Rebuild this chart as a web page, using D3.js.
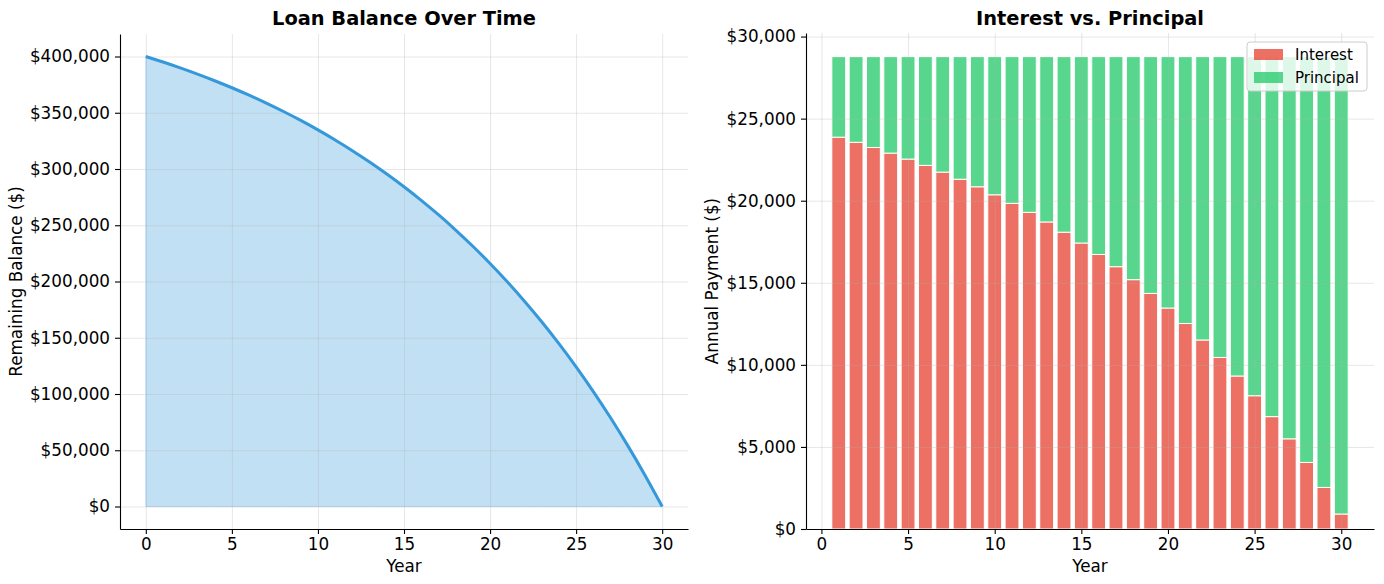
<!DOCTYPE html>
<html>
<head>
<meta charset="utf-8">
<script src="https://cdn.jsdelivr.net/npm/d3@7"></script>
<style>
  body { margin: 0; background: #fff; }
  svg text { font-family: "DejaVu Sans", sans-serif; fill: #000; }
  .axis path, .axis line { stroke: #000; stroke-width: 1.1; }
  .axis text { font-size: 16.8px; }
  .grid line { stroke: #b0b0b0; stroke-opacity: 0.35; stroke-width: 0.9; }
  .grid path { display: none; }
</style>
</head>
<body>
<svg id="chart" width="1384" height="584"></svg>
<script>
// years 0..30, balance at end of each year
var years = [0,1,2,3,4,5,6,7,8,9,10,11,12,13,14,15,16,17,18,19,20,21,22,23,24,25,26,27,28,29,30];
var balance = [400000,395093,389873,384336,378458,372217,365592,358557,351089,343160,
  334743,325804,316318,306245,295550,284195,272141,259343,245755,231330,
  216014,199754,182491,164164,144707,124048,102116,78832,54110,27865,0];

// payment years 1..30
var payYears = [1,2,3,4,5,6,7,8,9,10,11,12,13,14,15,16,17,18,19,20,21,22,23,24,25,26,27,28,29,30];
var interest = [23871,23558,23241,22900,22537,22153,21743,21310,20849,20361,
  19839,19292,18705,18083,17423,16724,15980,15190,14353,13462,
  12518,11515,10451,9321,8119,6846,5494,4056,2533,913];
var principal = [4907,5220,5537,5878,6241,6625,7035,7468,7929,8417,
  8939,9486,10073,10695,11355,12054,12798,13588,14425,15316,
  16260,17263,18327,19457,20659,21932,23284,24722,26245,27865];

var xTicksLeft = [0,5,10,15,20,25,30];
var yTicksLeft = [0,50000,100000,150000,200000,250000,300000,350000,400000];
var xTicksRight = [0,5,10,15,20,25,30];
var yTicksRight = [0,5000,10000,15000,20000,25000,30000];

var seriesNames = ['Interest', 'Principal'];
var colors = {Interest: '#e74c3c', Principal: '#2ecc71'};

var svg = d3.select("#chart");
var money = function(d) { return "$" + d3.format(",")(d); };

// ---------- left: balance ----------
var L = {left: 120, right: 688, top: 34, bottom: 529};
var xL = d3.scaleLinear().domain([-1.5, 31.5]).range([L.left, L.right]);
var yL = d3.scaleLinear().domain([-20000, 420000]).range([L.bottom, L.top]);
var gL = svg.append("g");

var pts = years.map(function(y, i) { return {year: y, bal: balance[i]}; });

gL.append("path")
  .datum(pts)
  .attr("fill", "#3498db")
  .attr("fill-opacity", 0.3)
  .attr("stroke", "#3498db")
  .attr("stroke-opacity", 0.3)
  .attr("d", d3.area()
    .curve(d3.curveMonotoneX)
    .x(function(d) { return xL(d.year); })
    .y0(yL(0))
    .y1(function(d) { return yL(d.bal); }));

// grid on top, faint
gL.append("g").attr("class", "grid")
  .attr("transform", "translate(0," + L.bottom + ")")
  .call(d3.axisBottom(xL).tickValues(xTicksLeft).tickSize(-(L.bottom - L.top)).tickFormat(""));
gL.append("g").attr("class", "grid")
  .attr("transform", "translate(" + L.left + ",0)")
  .call(d3.axisLeft(yL).tickValues(yTicksLeft).tickSize(-(L.right - L.left)).tickFormat(""));

gL.append("path")
  .datum(pts)
  .attr("fill", "none")
  .attr("stroke", "#3498db")
  .attr("stroke-width", 3)
  .attr("d", d3.line()
    .curve(d3.curveMonotoneX)
    .x(function(d) { return xL(d.year); })
    .y(function(d) { return yL(d.bal); }));

gL.append("g").attr("class", "axis")
  .attr("transform", "translate(0," + L.bottom + ")")
  .call(d3.axisBottom(xL).tickValues(xTicksLeft).tickSize(5).tickPadding(4).tickSizeOuter(0));
gL.append("g").attr("class", "axis")
  .attr("transform", "translate(" + L.left + ",0)")
  .call(d3.axisLeft(yL).tickValues(yTicksLeft).tickFormat(money).tickSize(5).tickPadding(5).tickSizeOuter(0));

gL.append("text").attr("x", (L.left + L.right) / 2).attr("y", 25)
  .attr("text-anchor", "middle").style("font-size", "19.4px").style("font-weight", "bold")
  .text("Loan Balance Over Time");
gL.append("text").attr("x", (L.left + L.right) / 2).attr("y", 572)
  .attr("text-anchor", "middle").style("font-size", "16.8px").text("Year");
gL.append("text").attr("transform", "translate(22," + (L.top + L.bottom) / 2 + ") rotate(-90)")
  .attr("text-anchor", "middle").style("font-size", "16.8px").text("Remaining Balance ($)");

// ---------- right: interest vs principal ----------
var R = {left: 806, right: 1374, top: 33, bottom: 529};
var xR = d3.scaleLinear().domain([-0.89, 31.89]).range([R.left, R.right]);
var yR = d3.scaleLinear().domain([0, 30217]).range([R.bottom, R.top]);
var gR = svg.append("g");

var rows = payYears.map(function(y, i) { return {year: y, Interest: interest[i], Principal: principal[i]}; });
var stacked = d3.stack().keys(seriesNames)(rows);

gR.selectAll("g.series")
  .data(stacked)
  .enter().append("g")
  .attr("class", "series")
  .attr("fill", function(d) { return colors[d.key]; })
  .attr("fill-opacity", 0.8)
  .selectAll("rect")
  .data(function(d) { return d; })
  .enter().append("rect")
  .attr("x", function(d) { return xR(d.data.year - 0.4); })
  .attr("width", xR(0.8) - xR(0))
  .attr("y", function(d) { return yR(d[1]); })
  .attr("height", function(d) { return yR(d[0]) - yR(d[1]); })
  .attr("stroke", "#fff")
  .attr("stroke-width", 1);

gR.append("g").attr("class", "grid")
  .attr("transform", "translate(0," + R.bottom + ")")
  .call(d3.axisBottom(xR).tickValues(xTicksRight).tickSize(-(R.bottom - R.top)).tickFormat(""));
gR.append("g").attr("class", "grid")
  .attr("transform", "translate(" + R.left + ",0)")
  .call(d3.axisLeft(yR).tickValues(yTicksRight).tickSize(-(R.right - R.left)).tickFormat(""));

gR.append("g").attr("class", "axis")
  .attr("transform", "translate(0," + R.bottom + ")")
  .call(d3.axisBottom(xR).tickValues(xTicksRight).tickSize(5).tickPadding(4).tickSizeOuter(0));
gR.append("g").attr("class", "axis")
  .attr("transform", "translate(" + R.left + ",0)")
  .call(d3.axisLeft(yR).tickValues(yTicksRight).tickFormat(money).tickSize(5).tickPadding(5).tickSizeOuter(0));

gR.append("text").attr("x", (R.left + R.right) / 2).attr("y", 25)
  .attr("text-anchor", "middle").style("font-size", "19.4px").style("font-weight", "bold")
  .text("Interest vs. Principal");
gR.append("text").attr("x", (R.left + R.right) / 2).attr("y", 572)
  .attr("text-anchor", "middle").style("font-size", "16.8px").text("Year");
gR.append("text").attr("transform", "translate(718," + (R.top + R.bottom) / 2 + ") rotate(-90)")
  .attr("text-anchor", "middle").style("font-size", "16.8px").text("Annual Payment ($)");

// legend
var leg = gR.append("g").attr("transform", "translate(1247,42)");
leg.append("rect").attr("width", 120).attr("height", 49).attr("rx", 3)
  .attr("fill", "#fff").attr("fill-opacity", 0.8)
  .attr("stroke", "#cccccc").attr("stroke-width", 1);
seriesNames.forEach(function(name, i) {
  leg.append("rect").attr("x", 7).attr("y", 7 + i * 23).attr("width", 29).attr("height", 11)
    .attr("fill", colors[name]).attr("fill-opacity", 0.8);
  leg.append("text").attr("x", 48).attr("y", 18 + i * 23)
    .style("font-size", "15px").text(name);
});
</script>
</body>
</html>
